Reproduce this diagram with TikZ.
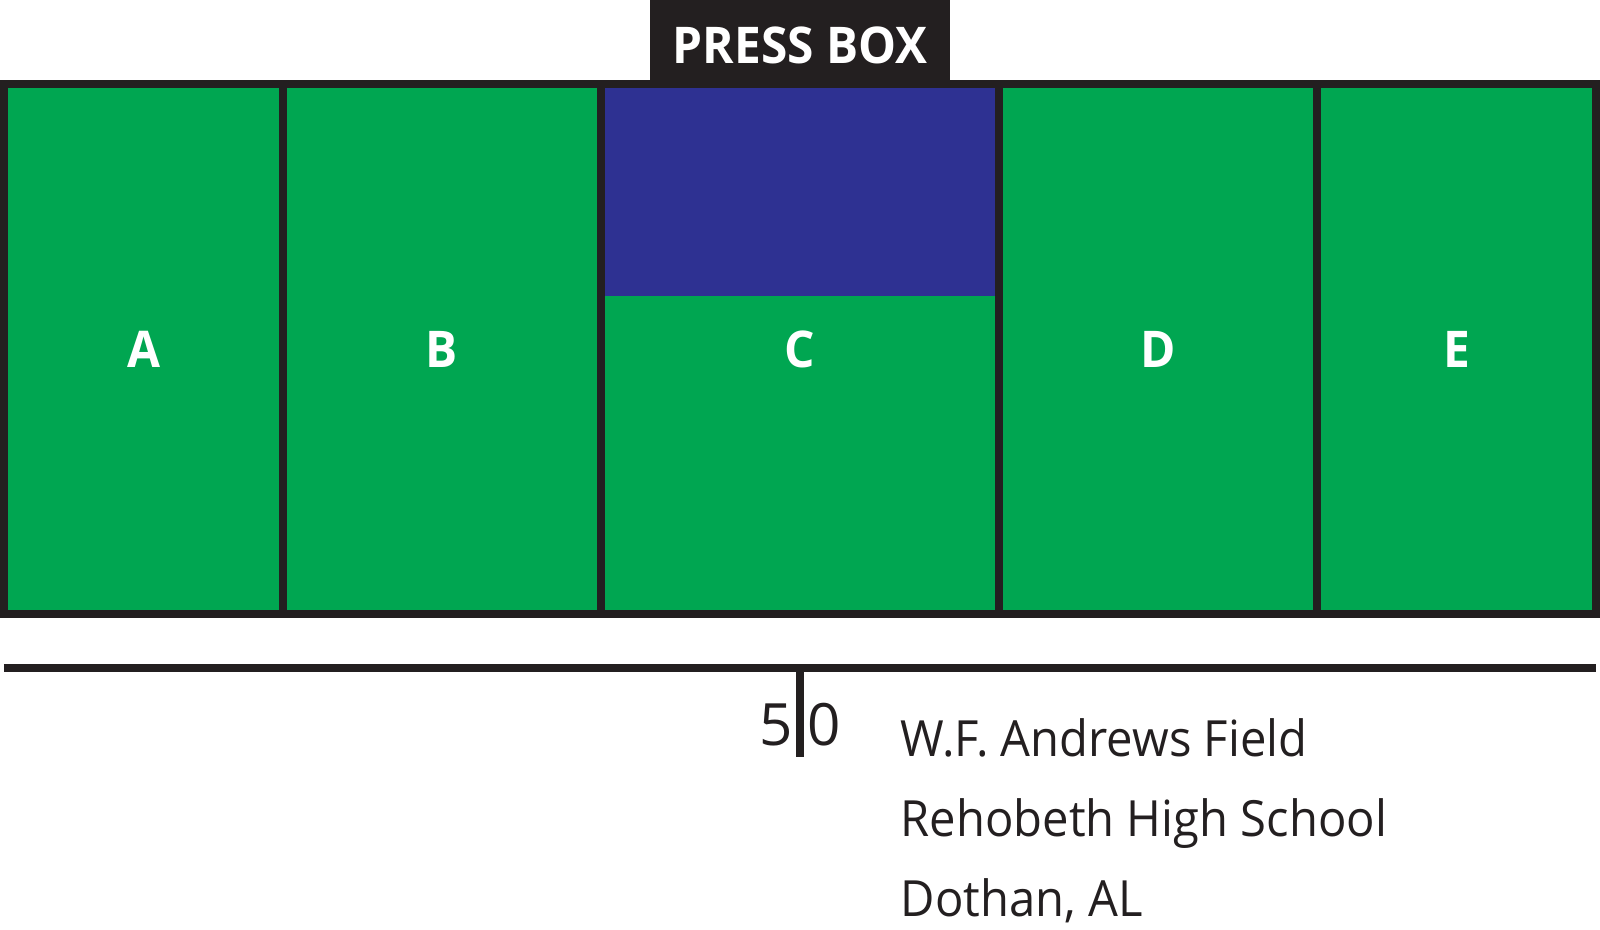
\documentclass[tikz,border=0pt]{standalone}
\usepackage{fontspec}
\setmainfont[FakeStretch=0.945]{Open Sans}
\newfontfamily\yardface{Open Sans}
\definecolor{fieldgreen}{HTML}{00A651}
\definecolor{boxblue}{HTML}{2E3192}
\definecolor{inkblack}{HTML}{231F20}
\tikzset{
  rule/.style={draw=inkblack, line width=0.08cm},
  seclabel/.style={anchor=base, text=white, font=\fontsize{14.4}{16}\selectfont\bfseries, inner sep=0pt},
  infolabel/.style={anchor=base west, text=inkblack, font=\fontsize{14.2}{16}\selectfont, inner sep=0pt},
  yardlabel/.style={anchor=base, text=inkblack, font=\yardface\fontsize{16.6}{18}\selectfont, inner sep=0pt}
}
\begin{document}
\begin{tikzpicture}
\useasboundingbox (0,0) rectangle (16,9.29);

\fill [fieldgreen] (0,3.15) rectangle (16,8.45);
\fill [boxblue] (6.05,6.33) rectangle (9.95,8.45);
\fill [inkblack] (6.5,8.41) rectangle (9.5,9.29);
\draw [rule] (0.04,3.15) rectangle (15.96,8.45);
\draw [rule] (2.83,3.15) -- (2.83,8.45);
\draw [rule] (6.01,3.15) -- (6.01,8.45);
\draw [rule] (9.99,3.15) -- (9.99,8.45);
\draw [rule] (13.17,3.15) -- (13.17,8.45);

\node [seclabel] (press) at (8,8.65) {PRESS BOX};
\node [seclabel] (secA) at (1.435,5.62) {A};
\node [seclabel] (secB) at (4.42,5.62) {B};
\node [seclabel] (secC) at (8,5.62) {C};
\node [seclabel] (secD) at (11.58,5.62) {D};
\node [seclabel] (secE) at (14.565,5.62) {E};

\draw [rule] (0.04,2.615) -- (15.96,2.615);
\draw [rule] (8,2.615) -- (8,1.72);
\node [yardlabel] (five) at (7.76,1.84) {5};
\node [yardlabel] (zero) at (8.24,1.84) {0};

\node [infolabel] (field) at (9.0,1.73) {W.F. Andrews Field};
\node [infolabel] (school) at (9.0,0.93) {Rehobeth High School};
\node [infolabel] (city) at (9.0,0.13) {Dothan, AL};
\end{tikzpicture}
\end{document}
